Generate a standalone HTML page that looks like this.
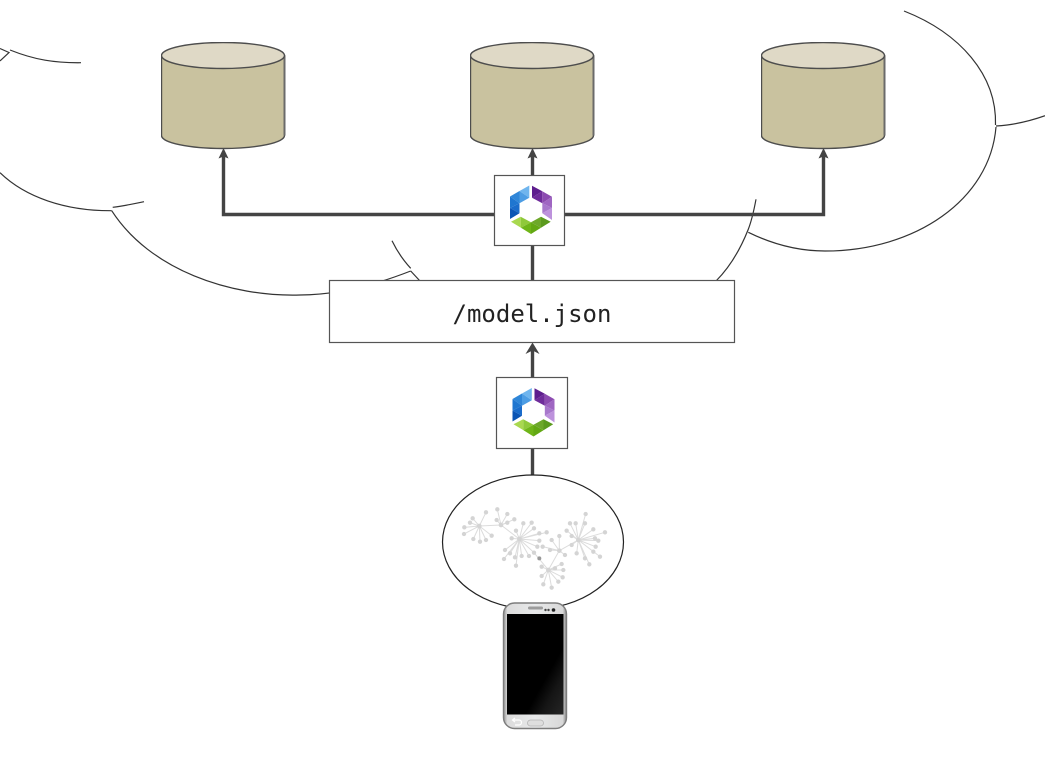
<!DOCTYPE html>
<html lang="en">
<head>
<meta charset="utf-8">
<title>model.json diagram</title>
<style>
html,body{margin:0;padding:0;background:#fff;width:1045px;height:768px;overflow:hidden}
svg{display:block;filter:blur(.35px)}
</style>
</head>
<body>
<svg xmlns="http://www.w3.org/2000/svg" width="1045" height="768" viewBox="0 0 1045 768">
<defs>
<linearGradient id="ph" x1="0" y1="0" x2="1" y2="0">
<stop offset="0" stop-color="#8f8f8f"/><stop offset=".06" stop-color="#dcdcdc"/><stop offset=".5" stop-color="#e8e9ea"/><stop offset=".94" stop-color="#d8d8d8"/><stop offset="1" stop-color="#858585"/>
</linearGradient>
<linearGradient id="sc" x1="0" y1="0" x2="1" y2="1">
<stop offset="0" stop-color="#000"/><stop offset=".66" stop-color="#000"/><stop offset=".8" stop-color="#151515"/><stop offset="1" stop-color="#262626"/>
</linearGradient>
<symbol id="logo" viewBox="0 0 71 71" width="71" height="71">
<path fill="#6fb5ee" d="M35.300 10.500 25.500 16 35.300 22.700z"/>
<path fill="#4d9de4" d="M25.500 16 25.500 28.300 35.300 22.700z"/>
<path fill="#2f86d8" d="M25.500 16 16 21.500 25.500 28.300z"/>
<path fill="#1f76d0" d="M16 21.500 16 33 25.500 28.300z"/>
<path fill="#1a6ccb" d="M16 33 25.500 28.300 25.500 38.300z"/>
<path fill="#0b55b5" d="M16 33 25.500 38.300 16 44z"/>
<path fill="#5e1e8e" d="M38 10.700 48.300 16.300 38 22.700z"/>
<path fill="#6f2c9b" d="M48.300 16.300 48.300 28.300 38 22.700z"/>
<path fill="#8c4bb0" d="M48.300 16.300 58 21.700 48.300 28.300z"/>
<path fill="#9f66c2" d="M58 21.700 58 33 48.300 28.300z"/>
<path fill="#a878cc" d="M58 33 48.300 28.300 48.300 38.300z"/>
<path fill="#bd92dc" d="M58 33 58 45 48.300 38.300z"/>
<path fill="#a9d84f" d="M17 46.700 26.700 41.700 27 52.800z"/>
<path fill="#8fc93a" d="M26.700 41.700 37 47.300 27 52.800z"/>
<path fill="#6fb518" d="M27 52.800 37 47.300 37 59z"/>
<path fill="#63a814" d="M37 47.300 47 52.800 37 59z"/>
<path fill="#6da82a" d="M37 47.300 47 41.700 47 52.800z"/>
<path fill="#5b9a1e" d="M47 41.700 56.700 46.700 47 52.800z"/>
</symbol>
<symbol id="cyl" viewBox="0 0 125 108" width="125" height="108">
<path d="M.5 13.500V93.500C.5 100.700 28 106.500 62 106.500S123.500 100.700 123.500 93.500V13.500z" fill="#c9c29f" stroke="#4d4d4d" stroke-width="1.400"/>
<path d="M123.500 13.500V93.500" stroke="#6a6a6a" stroke-width="2" fill="none"/>
<ellipse cx="62" cy="13.500" rx="61.500" ry="13" fill="#dfd9c6" stroke="#4d4d4d" stroke-width="1.400"/>
</symbol>
</defs>

<!-- cloud curves -->
<g fill="none" stroke="#333" stroke-width="1.200">
<path d="M0 48.500 9 52.500 0 61"/>
<path d="M10 50C35 60 55 63 81 62.700"/>
<path d="M0 172.700C25 197 65 211 111.700 210.700"/>
<path d="M112.700 207.300C123 206 133 204 144 201.700"/>
<path d="M111.700 210.700C150 270 230 297 300 295C340 295 380 283 410.700 271"/>
<path d="M410.700 271 420 281"/>
<path d="M392 240.700C397 251 403 260 410.700 268.300"/>
<path d="M904 11C960 33 997 75 995.500 125"/>
<path d="M996 127C990 200 915 251 825 251C795 251 770 243 748.300 232.300"/>
<path d="M996 126C1014 125 1030 121 1045 115.700"/>
<path d="M756 199.300C754 210 752 220 748 230C740 250 730 267 716 281"/>
</g>

<!-- connectors -->
<g fill="none" stroke="#444" stroke-width="3.400">
<path d="M223.500 156V214.500H823.500V156"/>
<path d="M532.500 156V176"/>
<path d="M532.500 245V281"/>
<path d="M532.500 350V378"/>
<path d="M532.500 448V476"/>
</g>
<g fill="#444">
<path d="M223.500 148 228.500 158.500 223.500 156.500 218.500 158.500z"/>
<path d="M532.500 148 537.500 158.500 532.500 156.500 527.500 158.500z"/>
<path d="M823.500 148 828.500 158.500 823.500 156.500 818.500 158.500z"/>
<path d="M532.500 342.500 539.500 354 532.500 350.500 525.500 354z"/>
</g>

<!-- databases -->
<use href="#cyl" x="161" y="42"/>
<use href="#cyl" x="470" y="42"/>
<use href="#cyl" x="761" y="42"/>

<!-- logo boxes -->
<rect x="494.500" y="175.500" width="70" height="70" fill="#fff" stroke="#555" stroke-width="1.200"/>
<use href="#logo" x="494" y="175"/>
<rect x="496.500" y="377.500" width="71" height="71" fill="#fff" stroke="#555" stroke-width="1.200"/>
<use href="#logo" x="496.500" y="377.500"/>

<!-- model box -->
<rect x="329.500" y="280.500" width="405" height="62" fill="#fff" stroke="#555" stroke-width="1.200"/>
<text x="532" y="322" text-anchor="middle" font-family="'DejaVu Sans Mono','Liberation Mono',monospace" font-size="24" fill="#222">/model.json</text>

<!-- ellipse + graph -->
<ellipse cx="533" cy="542" rx="90.500" ry="67" fill="#fff" stroke="#222" stroke-width="1.200"/>
<g transform="translate(430 470) scale(.3333)" fill="none" stroke-linecap="round">
<path stroke="#dcdcdc" stroke-width="3" d="M148 168 168 127M148 168 128 145M148 168 120 158M148 168 103 172M148 168 102 192M148 168 130 207M148 168 150 215M148 168 168 210M148 168 185 197M148 168 213 165M213 165 202 118M213 165 232 132M213 165 253 148M213 165 232 158M213 165 200 150M213 165 268 207M268 207 280 160M268 207 305 158M268 207 312 175M268 207 328 190M268 207 350 187M268 207 328 212M268 207 322 230M268 207 312 248M268 207 297 258M268 207 275 258M268 207 255 262M268 207 222 267M268 207 240 250M268 207 225 240M268 207 245 205M268 207 258 182M268 207 258 287M312 248 355 300M355 300 395 282M355 300 400 300M355 300 398 322M355 300 385 335M355 300 365 353M355 300 340 343M355 300 335 318M355 300 335 290M355 300 375 295M355 300 388 242M388 242 365 210M388 242 388 198M388 242 338 230M388 242 360 240M388 242 405 255M388 242 445 210M445 210 467 132M445 210 437 160M445 210 420 160M445 210 410 182M445 210 425 198M445 210 465 160M445 210 490 178M445 210 525 187M445 210 495 205M445 210 505 212M445 210 497 230M445 210 490 245M445 210 510 260M445 210 465 265M445 210 478 283M445 210 440 250M445 210 425 225"/>
<g fill="#d4d4d4" stroke="none">
<circle cx="168" cy="127" r="6.500"/><circle cx="128" cy="145" r="6.500"/><circle cx="120" cy="158" r="6.500"/><circle cx="103" cy="172" r="6.500"/><circle cx="102" cy="192" r="6.500"/><circle cx="130" cy="207" r="6.500"/><circle cx="150" cy="215" r="6.500"/><circle cx="168" cy="210" r="6.500"/><circle cx="185" cy="197" r="6.500"/><circle cx="202" cy="118" r="6.500"/><circle cx="232" cy="132" r="6.500"/><circle cx="253" cy="148" r="6.500"/><circle cx="232" cy="158" r="6.500"/><circle cx="200" cy="150" r="6.500"/><circle cx="280" cy="160" r="6.500"/><circle cx="305" cy="158" r="6.500"/><circle cx="312" cy="175" r="6.500"/><circle cx="328" cy="190" r="6.500"/><circle cx="350" cy="187" r="6.500"/><circle cx="328" cy="212" r="6.500"/><circle cx="322" cy="230" r="6.500"/><circle cx="312" cy="248" r="6.500"/><circle cx="297" cy="258" r="6.500"/><circle cx="275" cy="258" r="6.500"/><circle cx="255" cy="262" r="6.500"/><circle cx="222" cy="267" r="6.500"/><circle cx="240" cy="250" r="6.500"/><circle cx="225" cy="240" r="6.500"/><circle cx="245" cy="205" r="6.500"/><circle cx="258" cy="182" r="6.500"/><circle cx="258" cy="287" r="6.500"/><circle cx="395" cy="282" r="6.500"/><circle cx="400" cy="300" r="6.500"/><circle cx="398" cy="322" r="6.500"/><circle cx="385" cy="335" r="6.500"/><circle cx="365" cy="353" r="6.500"/><circle cx="340" cy="343" r="6.500"/><circle cx="335" cy="318" r="6.500"/><circle cx="335" cy="290" r="6.500"/><circle cx="375" cy="295" r="6.500"/><circle cx="365" cy="210" r="6.500"/><circle cx="388" cy="198" r="6.500"/><circle cx="338" cy="230" r="6.500"/><circle cx="360" cy="240" r="6.500"/><circle cx="405" cy="255" r="6.500"/><circle cx="467" cy="132" r="6.500"/><circle cx="437" cy="160" r="6.500"/><circle cx="420" cy="160" r="6.500"/><circle cx="410" cy="182" r="6.500"/><circle cx="425" cy="198" r="6.500"/><circle cx="465" cy="160" r="6.500"/><circle cx="490" cy="178" r="6.500"/><circle cx="525" cy="187" r="6.500"/><circle cx="495" cy="205" r="6.500"/><circle cx="505" cy="212" r="6.500"/><circle cx="497" cy="230" r="6.500"/><circle cx="490" cy="245" r="6.500"/><circle cx="510" cy="260" r="6.500"/><circle cx="465" cy="265" r="6.500"/><circle cx="478" cy="283" r="6.500"/><circle cx="440" cy="250" r="6.500"/><circle cx="425" cy="225" r="6.500"/>
<circle cx="148" cy="168" r="7"/><circle cx="213" cy="165" r="7"/><circle cx="268" cy="207" r="7"/><circle cx="355" cy="300" r="7"/><circle cx="388" cy="242" r="7"/><circle cx="445" cy="210" r="7"/>
</g>
<circle cx="328" cy="265" r="6" fill="#999" stroke="none"/>
</g>

<!-- phone -->
<rect x="503.500" y="603" width="63" height="125.500" rx="11" fill="url(#ph)" stroke="#7d7d7d" stroke-width="1.400"/>
<rect x="507" y="614" width="56.500" height="100.500" fill="url(#sc)"/>
<rect x="528" y="606.500" width="15" height="3" rx="1.500" fill="#9c9c9c"/>
<circle cx="545.500" cy="610" r="1.200" fill="#444"/>
<circle cx="548.500" cy="610" r="1.200" fill="#444"/>
<circle cx="553.500" cy="610" r="1.800" fill="#222"/>
<rect x="527.500" y="720" width="16" height="6" rx="3" fill="#dedede" stroke="#b4b4b4" stroke-width=".8"/>
<path d="M513 720h6a2.500 2.500 0 0 1 0 5h-4M515 718l-2.500 2 2.500 2" fill="none" stroke="#fff" stroke-width="1.200"/>
</svg>
</body>
</html>
